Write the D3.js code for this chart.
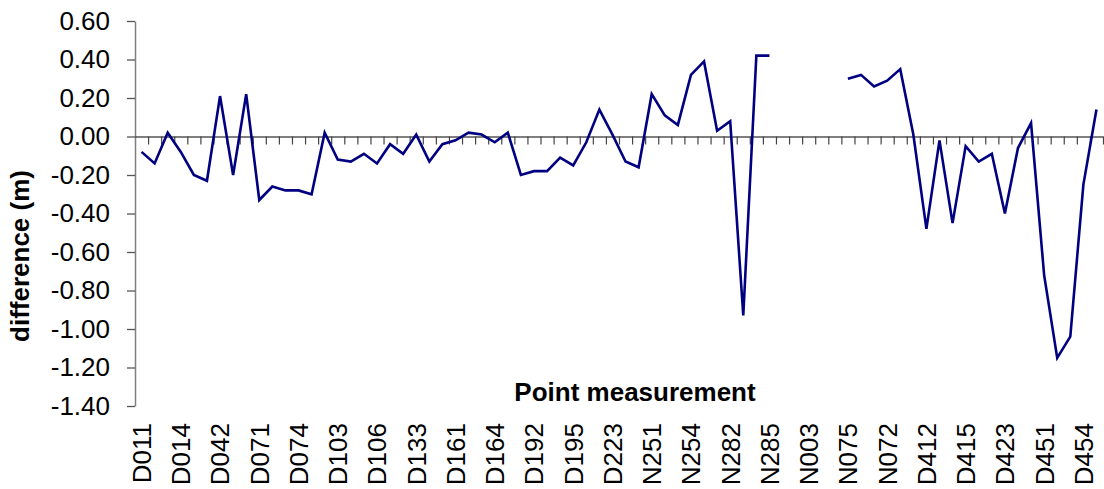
<!DOCTYPE html>
<html><head><meta charset="utf-8">
<script src="https://cdn.jsdelivr.net/npm/d3@7"></script>
<style>
html,body{margin:0;padding:0;background:#fff;}
svg{display:block;font-family:"Liberation Sans",Arial,sans-serif;}
</style></head>
<body><svg id="chart" width="1104" height="489"></svg>
<script>
const categories = [
"D011","D012","D013","D014","D015","D041","D042","D043","D044","D071",
"D072","D073","D074","D101","D102","D103","D104","D105","D106","D131",
"D132","D133","D134","D135","D161","D162","D163","D164","D165","D191",
"D192","D193","D194","D195","D221","D222","D223","D224","D225","N251",
"N252","N253","N254","N255","N281","N282","N283","N284","N285","N001",
"N002","N003","N004","N005","N075","N074","N073","N072","N071","D411",
"D412","D413","D414","D415","D421","D422","D423","D424","D425","D451",
"D452","D453","D454","D455"];
const differences = [
-0.08,-0.14,0.02,-0.08,-0.20,-0.23,0.21,-0.20,0.22,-0.33,
-0.26,-0.28,-0.28,-0.30,0.02,-0.12,-0.13,-0.09,-0.14,-0.04,
-0.09,0.01,-0.13,-0.04,-0.02,0.02,0.01,-0.03,0.02,-0.20,
-0.18,-0.18,-0.11,-0.15,-0.03,0.14,0.01,-0.13,-0.16,0.22,
0.11,0.06,0.32,0.39,0.03,0.08,-0.93,0.42,0.42,null,
null,null,null,null,0.30,0.32,0.26,0.29,0.35,0.01,
-0.48,-0.02,-0.45,-0.05,-0.13,-0.09,-0.40,-0.06,0.07,-0.72,
-1.15,-1.04,-0.25,0.14];
const yTicks = [-1.4,-1.2,-1.0,-0.8,-0.6,-0.4,-0.2,0,0.2,0.4,0.6];
const xLabelStep = 3;
const xTitle = "Point measurement";
const yTitle = "difference (m)";

const svg = d3.select("#chart");
const L = 135, R = 1103, T = 21, B = 406;
const N = categories.length;
const x = d3.scaleBand().domain(categories).range([L, R]).padding(0);
const xb = d3.scaleLinear().domain([0, N]).range([L, R]);
const y = d3.scaleLinear().domain([-1.4, 0.6]).range([B, T]);
const fmt = d => d3.format(".2f")(d).replace("\u2212", "-");

// y axis
const ya = svg.append("g").attr("transform", `translate(${L},0)`)
  .call(d3.axisLeft(y).tickValues(yTicks).tickFormat(fmt).tickSize(8).tickPadding(17).tickSizeOuter(0));
ya.select(".domain").attr("stroke", "#7f7f7f").attr("stroke-width", 1.5);
ya.selectAll(".tick line").attr("stroke", "#555").attr("stroke-width", 1.3);
ya.selectAll(".tick text").attr("font-size", 26).attr("fill", "#000")
  .attr("font-family", "Liberation Sans, Arial, sans-serif");

// zero line with category ticks
const za = svg.append("g").attr("transform", `translate(0,${y(0)})`)
  .call(d3.axisBottom(xb).tickValues(d3.range(1, N + 1)).tickFormat("").tickSize(8).tickSizeOuter(0));
za.select(".domain").attr("stroke", "#000").attr("stroke-width", 1.2);
za.selectAll(".tick line").attr("stroke", "#444").attr("stroke-width", 1.2);

// category labels
const xa = svg.append("g").attr("transform", `translate(0,${B + 17})`)
  .call(d3.axisBottom(x).tickValues(categories.filter((c, i) => i % xLabelStep === 0)).tickSize(0).tickPadding(0));
xa.select(".domain").remove();
xa.selectAll(".tick text")
  .attr("font-size", 26).attr("fill", "#000")
  .attr("font-family", "Liberation Sans, Arial, sans-serif")
  .attr("transform", "rotate(-90)")
  .attr("text-anchor", "end")
  .attr("x", 0).attr("y", 0).attr("dy", "0.36em");

// line
const line = d3.line()
  .defined(d => d.v !== null)
  .x(d => x(d.c) + x.bandwidth() / 2)
  .y(d => y(d.v));
svg.append("path")
  .datum(categories.map((c, i) => ({c, v: differences[i]})))
  .attr("fill", "none").attr("stroke", "#000080").attr("stroke-width", 2.6)
  .attr("stroke-linejoin", "miter")
  .attr("d", line);

// titles
svg.append("text").attr("x", 635).attr("y", 401).attr("text-anchor", "middle")
  .attr("font-size", 26).attr("font-weight", "bold").text(xTitle);
svg.append("text").attr("transform", "translate(29,256) rotate(-90)").attr("text-anchor", "middle")
  .attr("font-size", 26).attr("font-weight", "bold").text(yTitle);
</script></body></html>
